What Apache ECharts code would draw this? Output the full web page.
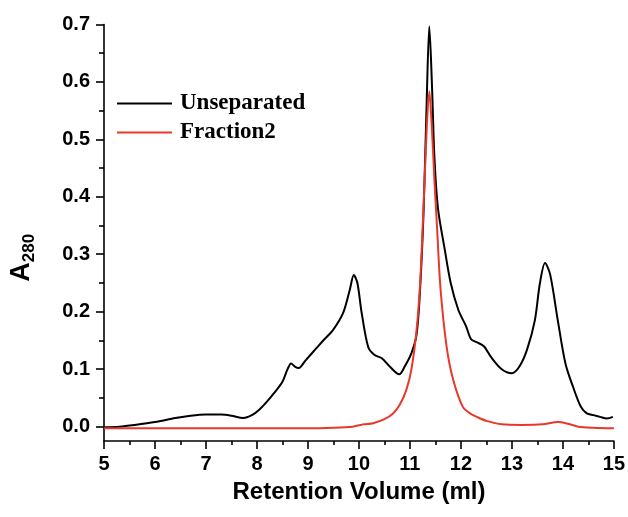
<!DOCTYPE html>
<html>
<head>
<meta charset="utf-8">
<script src="https://cdn.jsdelivr.net/npm/echarts@6/dist/echarts.min.js"></script>
<style>
html,body{margin:0;padding:0;background:#fff;}
#c{width:628px;height:517px;}
</style>
</head>
<body>
<div id="c"></div>
<script>
// Retention volume (ml) / absorbance pairs
var unseparatedX = [5.0,5.3,5.6,6.0,6.4,6.7,7.0,7.3,7.5,7.73,7.9,8.05,8.2,8.35,8.5,8.6,8.67,8.75,8.82,8.95,9.17,9.3,9.49,9.69,9.82,9.9,9.97,10.05,10.18,10.3,10.45,10.6,10.79,10.9,11.03,11.13,11.2,11.27,11.33,11.38,11.43,11.48,11.55,11.68,11.8,11.95,12.1,12.2,12.31,12.45,12.6,12.8,13.0,13.15,13.3,13.45,13.55,13.65,13.75,13.9,14.05,14.2,14.35,14.47,14.6,14.73,14.86,14.98];
var unseparatedY = [-0.001,0.0,0.003,0.008,0.015,0.019,0.021,0.021,0.019,0.015,0.02,0.03,0.044,0.06,0.078,0.1,0.11,0.104,0.102,0.115,0.137,0.15,0.168,0.198,0.238,0.264,0.25,0.2,0.139,0.125,0.119,0.105,0.091,0.105,0.128,0.16,0.24,0.38,0.57,0.697,0.6,0.47,0.38,0.31,0.25,0.203,0.175,0.152,0.147,0.14,0.12,0.1,0.093,0.105,0.135,0.185,0.25,0.285,0.265,0.185,0.11,0.069,0.035,0.023,0.02,0.017,0.014,0.017];
var fraction2X = [5.0,6.0,7.0,8.0,9.0,9.5,9.88,10.1,10.28,10.5,10.67,10.8,10.93,11.03,11.13,11.2,11.27,11.33,11.38,11.43,11.48,11.53,11.6,11.72,11.85,12.04,12.2,12.31,12.5,12.8,13.2,13.6,13.9,14.1,14.3,14.6,15.0];
var fraction2Y = [-0.003,-0.003,-0.003,-0.003,-0.003,-0.002,0.0,0.004,0.006,0.013,0.023,0.038,0.064,0.1,0.168,0.25,0.39,0.52,0.584,0.52,0.43,0.35,0.24,0.139,0.081,0.034,0.022,0.017,0.01,0.004,0.003,0.004,0.008,0.005,0.0,-0.002,-0.003];
var seriesNames = ['Unseparated','Fraction2'];
var xTicks = [5,6,7,8,9,10,11,12,13,14,15];
var yTicks = [0.0,0.1,0.2,0.3,0.4,0.5,0.6,0.7];

function pairs(xs, ys){ return xs.map(function(x,i){ return [x, ys[i]]; }); }

var chart = echarts.init(document.getElementById('c'), null, {renderer:'canvas'});
var labelFont = {fontFamily:'Liberation Sans, Arial, sans-serif', fontWeight:'bold', fontSize:20, color:'#000'};
chart.setOption({
  animation:false,
  backgroundColor:'#fff',
  grid:[
    {left:104, right:14, top:24.5, bottom:76},
    {left:104, right:14, top:24.5, height:402}
  ],
  legend:{
    orient:'vertical', left:112, top:87, itemWidth:55, itemHeight:2, itemGap:6,
    icon:'rect',
    textStyle:{fontFamily:'Liberation Serif, Times New Roman, serif', fontWeight:'bold', fontSize:23, color:'#000', padding:[0,0,0,3]},
    data:seriesNames
  },
  xAxis:[
    {gridIndex:0, type:'value', min:xTicks[0], max:xTicks[xTicks.length-1], interval:1,
     name:'Retention Volume (ml)', nameLocation:'middle', nameGap:39, nameMoveOverlap:false,
     nameTextStyle:{fontFamily:'Liberation Sans, Arial, sans-serif', fontWeight:'bold', fontSize:24, color:'#000'},
     axisLine:{show:true, onZero:false, lineStyle:{color:'#000', width:1.6}},
     axisTick:{show:true, inside:false, length:8, lineStyle:{color:'#000', width:1.6}},
     minorTick:{show:true, splitNumber:2, length:4, lineStyle:{color:'#000', width:1.6}},
     axisLabel:Object.assign({margin:13}, labelFont),
     splitLine:{show:false}},
    {gridIndex:1, type:'value', min:5, max:15, show:false}
  ],
  yAxis:[
    {gridIndex:0, type:'value', min:-0.025, max:0.7,
     name:'{a|A}{s|280}', nameLocation:'middle', nameGap:66, nameRotate:90, nameMoveOverlap:false,
     nameTextStyle:{padding:[0,50,0,0], rich:{
       a:{fontFamily:'Liberation Sans, Arial, sans-serif', fontWeight:'bold', fontSize:27, color:'#000'},
       s:{fontFamily:'Liberation Sans, Arial, sans-serif', fontWeight:'bold', fontSize:17, color:'#000', padding:[16,0,0,0]}
     }},
     axisLine:{show:true, onZero:false, lineStyle:{color:'#000', width:1.6}},
     axisTick:{show:false}, axisLabel:{show:false}, splitLine:{show:false}},
    {gridIndex:1, type:'value', min:yTicks[0], max:yTicks[yTicks.length-1], interval:0.1,
     axisLine:{show:false},
     axisTick:{show:true, inside:false, length:8, lineStyle:{color:'#000', width:1.6}},
     minorTick:{show:true, splitNumber:2, length:5, lineStyle:{color:'#000', width:1.6}},
     axisLabel:Object.assign({margin:14, formatter:function(v){return v.toFixed(1);}}, labelFont),
     splitLine:{show:false}}
  ],
  series:[
    {name:seriesNames[0], type:'line', xAxisIndex:0, yAxisIndex:0, data:pairs(unseparatedX, unseparatedY),
     smooth:0.3, symbol:'none', lineStyle:{color:'#000', width:2}, itemStyle:{color:'#000'}},
    {name:seriesNames[1], type:'line', xAxisIndex:0, yAxisIndex:0, data:pairs(fraction2X, fraction2Y),
     smooth:0.3, symbol:'none', lineStyle:{color:'#e8382a', width:2}, itemStyle:{color:'#e8382a'}}
  ]
});
</script>
</body>
</html>
